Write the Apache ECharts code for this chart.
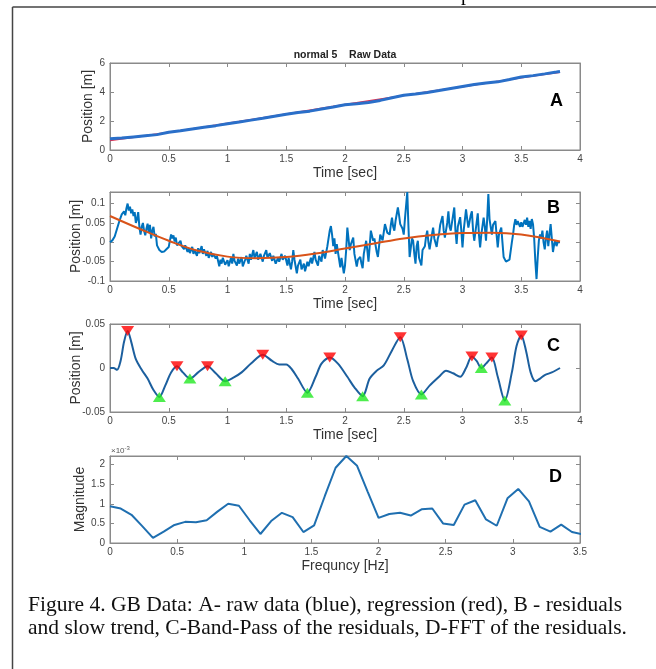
<!DOCTYPE html>
<html><head><meta charset="utf-8">
<script src="https://cdn.jsdelivr.net/npm/echarts@6/dist/echarts.min.js"></script>
<style>html,body{margin:0;padding:0;background:#fff}#c{width:656px;height:669px}</style>
</head><body><div id="c"></div>
<script>
// ---------- DATA ----------
// Panel A: raw position data (blue) and regression (red)
const rawTime = [0,0.1,0.2,0.3,0.4,0.5,0.6,0.7,0.8,0.9,1.0,1.1,1.2,1.3,1.4,1.5,1.6,1.7,1.8,1.9,2.0,2.1,2.2,2.3,2.4,2.5,2.6,2.7,2.8,2.9,3.0,3.1,3.2,3.3,3.4,3.5,3.6,3.7,3.8,3.83];
const rawPos  = [0.77,0.82,0.90,0.98,1.06,1.22,1.33,1.45,1.57,1.68,1.81,1.93,2.06,2.19,2.33,2.46,2.58,2.68,2.83,2.97,3.12,3.19,3.28,3.42,3.60,3.77,3.86,3.97,4.10,4.24,4.38,4.52,4.62,4.70,4.86,5.03,5.13,5.25,5.38,5.42];
const regTime = [0,0.5,1.0,1.5,2.0,2.5,3.0,3.5,3.83];
const regPos  = [0.65,1.22,1.84,2.49,3.13,3.76,4.37,4.98,5.37];

// Panel B: residuals (blue) and slow trend (orange)
const resTime = [0,0.02,0.04,0.06,0.08,0.10,0.12,0.13,0.14,0.15,0.16,0.17,0.18,0.19,0.20,0.21,0.22,0.23,0.24,0.25,0.26,0.27,0.28,0.29,0.30,0.31,0.32,0.33,0.34,0.35,0.36,0.37,0.38,0.39,0.40,0.42,0.44,0.46,0.48,0.50,0.51,0.52,0.53,0.54,0.55,0.56,0.57,0.58,0.60,0.61,0.62,0.63,0.64,0.66,0.67,0.68,0.70,0.71,0.72,0.74,0.75,0.76,0.78,0.79,0.80,0.82,0.83,0.84,0.86,0.87,0.88,0.90,0.91,0.93,0.94,0.95,0.96,0.98,1.00,1.01,1.03,1.04,1.05,1.06,1.08,1.09,1.10,1.12,1.13,1.15,1.16,1.18,1.19,1.20,1.22,1.23,1.25,1.26,1.28,1.30,1.31,1.33,1.34,1.36,1.38,1.39,1.41,1.43,1.44,1.46,1.47,1.49,1.51,1.52,1.54,1.55,1.56,1.57,1.59,1.60,1.62,1.63,1.65,1.66,1.68,1.69,1.71,1.72,1.74,1.75,1.77,1.78,1.80,1.81,1.83,1.85,1.87,1.88,1.89,1.90,1.91,1.92,1.93,1.95,1.96,1.97,1.99,2.00,2.01,2.02,2.04,2.05,2.07,2.08,2.10,2.11,2.13,2.14,2.15,2.16,2.18,2.19,2.20,2.21,2.22,2.24,2.25,2.27,2.28,2.29,2.30,2.32,2.34,2.36,2.38,2.39,2.40,2.41,2.42,2.43,2.45,2.46,2.47,2.49,2.50,2.51,2.53,2.54,2.55,2.57,2.58,2.59,2.60,2.61,2.62,2.63,2.65,2.66,2.68,2.69,2.70,2.71,2.72,2.74,2.75,2.76,2.78,2.79,2.80,2.81,2.83,2.84,2.85,2.87,2.88,2.89,2.90,2.92,2.93,2.94,2.95,2.96,2.98,2.99,3.00,3.01,3.03,3.04,3.05,3.07,3.08,3.09,3.10,3.12,3.13,3.14,3.15,3.16,3.18,3.19,3.20,3.21,3.22,3.23,3.25,3.26,3.28,3.29,3.30,3.31,3.33,3.34,3.35,3.37,3.38,3.40,3.42,3.43,3.44,3.45,3.46,3.47,3.49,3.50,3.51,3.53,3.54,3.55,3.56,3.57,3.58,3.59,3.60,3.61,3.62,3.63,3.64,3.65,3.66,3.67,3.68,3.69,3.70,3.71,3.72,3.73,3.74,3.75,3.76,3.77,3.78,3.79,3.80,3.81,3.82,3.83];
const resVal  = [0.000,0.005,0.015,0.035,0.055,0.072,0.080,0.070,0.088,0.100,0.082,0.092,0.075,0.085,0.068,0.078,0.050,0.060,0.078,0.040,0.020,0.040,0.050,0.030,0.018,0.035,0.048,0.025,0.045,0.010,0.030,0.040,0.015,0.022,-0.008,-0.020,-0.025,-0.024,-0.018,-0.012,0.005,0.020,0.010,0.018,0.002,0.012,-0.008,-0.013,0.004,-0.010,-0.005,-0.018,-0.008,-0.025,-0.015,-0.028,-0.012,-0.030,-0.020,-0.035,-0.015,-0.028,-0.010,-0.030,-0.018,-0.035,-0.022,-0.040,-0.025,-0.038,-0.030,-0.042,-0.035,-0.062,-0.045,-0.055,-0.040,-0.058,-0.046,-0.062,-0.040,-0.055,-0.030,-0.048,-0.060,-0.042,-0.055,-0.038,-0.062,-0.045,-0.035,-0.055,-0.030,-0.045,-0.020,-0.040,-0.025,-0.045,-0.030,-0.050,-0.035,-0.020,-0.040,-0.028,-0.048,-0.035,-0.055,-0.040,-0.050,-0.030,-0.045,-0.035,-0.060,-0.040,-0.070,-0.050,-0.020,-0.045,-0.080,-0.060,-0.045,-0.070,-0.055,-0.075,-0.050,-0.062,-0.040,-0.055,-0.025,-0.045,-0.060,-0.035,-0.050,-0.020,-0.042,-0.010,0.030,0.042,0.020,-0.010,0.010,-0.030,-0.005,-0.045,-0.065,-0.040,-0.080,-0.060,-0.020,0.038,-0.020,-0.005,0.012,-0.030,-0.063,-0.045,-0.038,-0.055,-0.067,-0.030,0.004,-0.020,-0.050,-0.010,0.030,0.004,0.010,-0.025,-0.038,-0.010,0.020,0.005,0.047,0.025,0.020,0.045,0.064,0.040,0.030,0.055,0.090,0.070,0.047,0.035,0.020,0.060,0.130,0.040,-0.038,0.010,0.004,-0.030,-0.055,-0.010,0.004,-0.040,-0.060,-0.020,-0.010,0.015,0.030,0.000,-0.018,0.020,0.038,0.010,-0.012,0.010,0.020,0.045,0.068,0.030,0.012,0.050,0.080,0.040,0.030,0.070,0.090,0.030,-0.004,0.040,0.065,0.030,-0.013,0.030,0.085,0.060,0.038,0.070,0.080,0.030,0.004,0.050,0.075,0.020,-0.013,0.020,0.064,0.040,0.004,0.060,0.125,0.060,0.020,0.045,0.055,0.020,-0.013,0.020,0.038,0.000,-0.038,-0.050,-0.052,-0.045,0.000,0.020,0.045,0.060,0.045,0.055,0.040,0.052,0.040,0.058,0.045,0.064,0.040,0.055,0.035,0.060,0.047,0.010,-0.050,-0.095,-0.040,0.005,0.020,0.010,0.030,0.000,-0.018,0.010,0.030,-0.010,0.020,0.047,0.010,-0.025,-0.005,0.005,-0.010,0.000,-0.005,0.000];
const trendTime = [0,0.25,0.5,0.75,1.0,1.25,1.5,1.75,2.0,2.25,2.5,2.75,3.0,3.25,3.5,3.83];
const trendVal  = [0.068,0.035,0.004,-0.022,-0.037,-0.041,-0.038,-0.029,-0.016,-0.003,0.010,0.019,0.024,0.025,0.020,0.002];

// Panel C: band-pass of residuals, with detected maxima and minima
const bpTime = [0,0.03,0.06,0.09,0.12,0.15,0.18,0.22,0.27,0.32,0.37,0.42,0.47,0.52,0.57,0.62,0.68,0.75,0.83,0.90,0.98,1.05,1.12,1.20,1.30,1.38,1.44,1.50,1.55,1.60,1.68,1.75,1.80,1.87,1.94,2.02,2.08,2.15,2.21,2.27,2.33,2.40,2.47,2.53,2.58,2.65,2.72,2.80,2.86,2.92,2.98,3.03,3.08,3.12,3.16,3.20,3.25,3.30,3.36,3.42,3.46,3.50,3.54,3.58,3.62,3.66,3.70,3.76,3.83];
const bpVal  = [0.000,0.000,-0.002,0.008,0.030,0.042,0.030,0.010,-0.002,-0.012,-0.025,-0.033,-0.020,-0.005,0.002,-0.005,-0.012,-0.005,0.002,-0.006,-0.015,-0.011,-0.005,0.005,0.015,0.008,0.004,0.004,-0.002,-0.012,-0.028,-0.010,0.005,0.012,0.005,-0.010,-0.022,-0.032,-0.012,-0.003,0.003,0.020,0.035,0.010,-0.015,-0.030,-0.020,-0.010,-0.003,-0.006,-0.010,0.000,0.013,0.008,0.000,0.005,0.012,-0.010,-0.037,-0.005,0.025,0.037,0.020,-0.005,-0.015,-0.012,-0.008,-0.005,0.000];
const maxTime = [0.15,0.57,0.83,1.30,1.87,2.47,3.08,3.25,3.50];
const maxVal  = [0.042,0.002,0.002,0.015,0.012,0.035,0.013,0.012,0.037];
const minTime = [0.42,0.68,0.98,1.68,2.15,2.65,3.16,3.36];
const minVal  = [-0.033,-0.012,-0.015,-0.028,-0.032,-0.030,0.000,-0.037];

// Panel D: FFT magnitude of residuals (units of 1e-3)
const freq   = [0,0.08,0.16,0.24,0.32,0.40,0.48,0.56,0.64,0.72,0.80,0.88,0.96,1.04,1.12,1.20,1.28,1.36,1.44,1.52,1.60,1.68,1.76,1.84,1.92,2.00,2.08,2.16,2.24,2.32,2.40,2.48,2.56,2.64,2.72,2.80,2.88,2.96,3.04,3.12,3.20,3.28,3.36,3.44,3.52];
const magE3  = [0.94,0.88,0.72,0.43,0.13,0.29,0.46,0.54,0.53,0.58,0.80,1.00,0.95,0.58,0.23,0.56,0.77,0.66,0.28,0.45,1.20,1.92,2.22,1.97,1.30,0.64,0.74,0.77,0.70,0.86,0.88,0.50,0.46,0.98,1.09,0.60,0.44,1.14,1.38,1.06,0.41,0.29,0.47,0.28,0.22];

// Tick labels / titles
const mainTitle = 'normal 5    Raw Data';
const panelLetters = ['A','B','C','D'];
const captionLines = ['Figure 4. GB Data: A- raw data (blue), regression (red), B - residuals',
                      'and slow trend, C-Band-Pass of the residuals, D-FFT of the residuals.'];

// ---------- CHART ----------
const zip = (a,b) => a.map((v,i) => [v, b[i]]);
const FONT = 'Liberation Sans, Arial, sans-serif';
const AX = '#8a8a8a';
const LEFT = 110, WIDTH = 470;
const panels = [
  {top:63,  height:87, xmin:0, xmax:4,   xint:0.5, ymin:0,    ymax:6,    yint:2,      xname:'Time [sec]',    yname:'Position [m]', ygap:15},
  {top:192, height:89, xmin:0, xmax:4,   xint:0.5, ymin:-0.1, ymax:0.13, yint:0.05,   xname:'Time [sec]',    yname:'Position [m]', ygap:27},
  {top:324, height:88, xmin:0, xmax:4,   xint:0.5, ymin:-0.05,ymax:0.05, yint:0.05,   xname:'Time [sec]',    yname:'Position [m]', ygap:27},
  {top:456, height:87, xmin:0, xmax:3.5, xint:0.5, ymin:0,    ymax:2.22, yint:0.5,    xname:'Frequncy [Hz]', yname:'Magnitude',    ygap:23}
];

const grid = [], xAxis = [], yAxis = [];
panels.forEach((p, i) => {
  grid.push({left:LEFT, top:p.top, width:WIDTH, height:p.height, show:true, borderColor:AX, borderWidth:1, backgroundColor:'#fff'});
  const common = {
    gridIndex:i, type:'value', splitLine:{show:false},
    axisLine:{show:true, onZero:false, lineStyle:{color:AX, width:1}},
    axisTick:{show:true, inside:true, length:4, lineStyle:{color:AX}}
  };
  xAxis.push(Object.assign({}, common, {
    position:'bottom', min:p.xmin, max:p.xmax, interval:p.xint,
    axisLabel:{color:'#444', fontSize:10, fontFamily:FONT, margin:4},
    name:p.xname, nameLocation:'middle', nameGap:16,
    nameTextStyle:{fontSize:14, color:'#333', fontFamily:FONT}
  }));
  xAxis.push(Object.assign({}, common, {
    position:'top', min:p.xmin, max:p.xmax, interval:p.xint, axisLabel:{show:false}
  }));
  yAxis.push(Object.assign({}, common, {
    position:'left', min:p.ymin, max:p.ymax, interval:p.yint,
    axisLabel:{color:'#444', fontSize:10, fontFamily:FONT, margin:5, showMaxLabel: (i===0 || i===2)},
    name:p.yname, nameLocation:'middle', nameGap:p.ygap, nameMoveOverlap:false,
    nameTextStyle:{fontSize:14, color:'#333', fontFamily:FONT}
  }));
  yAxis.push(Object.assign({}, common, {
    position:'right', min:p.ymin, max:p.ymax, interval:p.yint, axisLabel:{show:false}
  }));
});

const BLUE = '#0072BD';
const series = [
  {type:'line', xAxisIndex:0, yAxisIndex:0, data:zip(regTime, regPos), showSymbol:false, smooth:0.3, z:2, lineStyle:{color:'#e0304e', width:1.5}},
  {type:'line', xAxisIndex:0, yAxisIndex:0, data:zip(rawTime, rawPos), showSymbol:false, z:3, lineStyle:{color:'#2a6fc9', width:3}},
  {type:'line', xAxisIndex:2, yAxisIndex:2, data:zip(resTime, resVal), showSymbol:false, lineStyle:{color:BLUE, width:2}},
  {type:'line', xAxisIndex:2, yAxisIndex:2, data:zip(trendTime, trendVal), showSymbol:false, smooth:0.4, lineStyle:{color:'#D95319', width:2}},
  {type:'line', xAxisIndex:4, yAxisIndex:4, data:zip(bpTime, bpVal), showSymbol:false, smooth:0.3, lineStyle:{color:'#1c5f9e', width:2}},
  {type:'scatter', xAxisIndex:4, yAxisIndex:4, data:zip(maxTime, maxVal), symbol:'triangle', symbolRotate:180, symbolSize:[13,10], itemStyle:{color:'#ff0000'}, z:5},
  {type:'scatter', xAxisIndex:4, yAxisIndex:4, data:zip(minTime, minVal), symbol:'triangle', symbolSize:[13,10], itemStyle:{color:'#22e822'}, z:5},
  {type:'line', xAxisIndex:6, yAxisIndex:6, data:zip(freq, magE3), showSymbol:false, lineStyle:{color:'#1f6fb0', width:2}}
];

const letterPos = [[550,92],[547,199],[547,337],[549,468]];
const graphic = [
  {type:'line', shape:{x1:12.5, y1:7, x2:656, y2:7}, style:{stroke:'#444', lineWidth:1.5}},
  {type:'line', shape:{x1:12.5, y1:7, x2:12.5, y2:669}, style:{stroke:'#444', lineWidth:1.5}},
  {type:'text', x:461, y:-15, style:{text:'p', font:'20px "Liberation Serif"', fill:'#000'}},
  {type:'text', x:LEFT + WIDTH/2, y:50, style:{text:mainTitle, font:'bold 10.5px ' + FONT, fill:'#222', textAlign:'center'}},
  {type:'text', x:111, y:445, style:{text:'{a|×10}{b|-3}', rich:{a:{fontSize:8, fontFamily:FONT, fill:'#555'}, b:{fontSize:6, fontFamily:FONT, fill:'#555', verticalAlign:'top', padding:[0,0,6,0]}}}},
  {type:'text', x:28, y:594, style:{text:captionLines[0], font:'21.5px "Liberation Serif"', fill:'#111'}},
  {type:'text', x:28, y:617, style:{text:captionLines[1], font:'21.5px "Liberation Serif"', fill:'#111'}}
];
panelLetters.forEach((L, i) => {
  graphic.push({type:'text', x:letterPos[i][0], y:letterPos[i][1], style:{text:L, font:'bold 18px ' + FONT, fill:'#000'}});
});

const chart = echarts.init(document.getElementById('c'), null, {renderer:'canvas'});
chart.setOption({animation:false, backgroundColor:'#fff', grid, xAxis, yAxis, series, graphic});
</script></body></html>
